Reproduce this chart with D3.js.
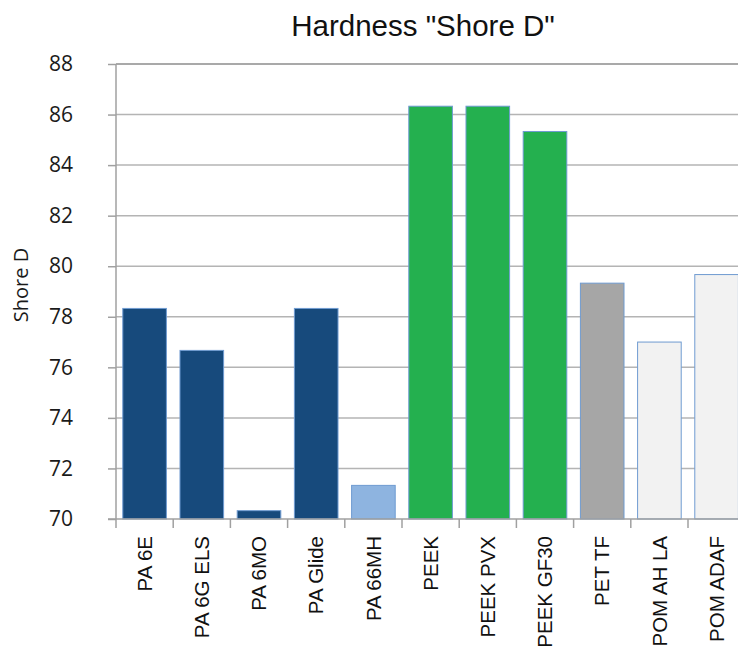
<!DOCTYPE html>
<html>
<head>
<meta charset="utf-8">
<script src="https://cdn.jsdelivr.net/npm/d3@7"></script>
<style>
  html, body { margin: 0; padding: 0; background: #fff; }
  svg { display: block; }
</style>
</head>
<body>
<div id="chart"></div>
<script>
// Shore D hardness per material
const materials = ["PA 6E", "PA 6G ELS", "PA 6MO", "PA Glide", "PA 66MH", "PEEK", "PEEK PVX", "PEEK GF30", "PET TF", "POM AH LA", "POM ADAF"];
const hardness = [78.33, 76.67, 70.33, 78.33, 71.33, 86.33, 86.33, 85.33, 79.33, 77, 79.67];
const fills = ["#174a7c", "#174a7c", "#174a7c", "#174a7c", "#8eb4e0", "#24b04f", "#24b04f", "#24b04f", "#a6a6a6", "#f2f2f2", "#f2f2f2"];
const yTicks = [70, 72, 74, 76, 78, 80, 82, 84, 86, 88];

const W = 738, H = 654;
const plotLeft = 116, plotTop = 64, plotBottom = 519;
const bandW = 57.2;

const svg = d3.select("#chart").append("svg")
  .attr("width", W).attr("height", H);

const x = d3.scaleBand().domain(materials)
  .range([plotLeft, plotLeft + bandW * materials.length])
  .paddingInner(0.22).paddingOuter(0.11);
const y = d3.scaleLinear().domain([70, 88]).range([plotBottom, plotTop]);

// horizontal gridlines
svg.append("g").selectAll("line").data(yTicks.slice(1)).join("line")
  .attr("x1", plotLeft).attr("x2", W)
  .attr("y1", d => y(d)).attr("y2", d => y(d))
  .attr("stroke", d => d === 88 ? "#8c8c8c" : "#b4b4b4")
  .attr("stroke-width", 1.5);

// bars
svg.append("g").selectAll("rect").data(materials).join("rect")
  .attr("x", d => x(d) + 0.5)
  .attr("width", x.bandwidth() - 1)
  .attr("y", (d, i) => y(hardness[i]))
  .attr("height", (d, i) => y(70) - y(hardness[i]))
  .attr("fill", (d, i) => fills[i])
  .attr("stroke", "#6f9bd1")
  .attr("stroke-width", 1);

// y axis
const yAxis = svg.append("g").attr("transform", `translate(${plotLeft},0)`)
  .call(d3.axisLeft(y).tickValues(yTicks).tickSize(8).tickPadding(35).tickFormat(d3.format("d")));
yAxis.select(".domain").attr("stroke", "#a0a0a0").attr("stroke-width", 1.5)
  .attr("d", `M0,${plotTop}V${plotBottom}`);
yAxis.selectAll(".tick line").attr("stroke", "#a0a0a0").attr("stroke-width", 1.5);
yAxis.selectAll(".tick text")
  .attr("font-family", "'Open Sans', 'DejaVu Sans', sans-serif")
  .attr("font-size", 21).attr("fill", "#1a1a1a");

// x axis
const xAxis = svg.append("g").attr("transform", `translate(0,${plotBottom})`)
  .call(d3.axisBottom(x).tickSize(0).tickPadding(0));
xAxis.select(".domain").attr("stroke", "#a0a0a0").attr("stroke-width", 1.5)
  .attr("d", `M${plotLeft - 8},0H${W}`);
xAxis.selectAll(".tick text")
  .attr("font-family", "'Liberation Sans', Arial, sans-serif")
  .attr("font-size", 20.5).attr("fill", "#111")
  .attr("text-anchor", "end")
  .attr("dy", "0.35em")
  .attr("transform", "translate(0,17) rotate(-90)");

// category separators below the axis
svg.append("g").selectAll("line").data(d3.range(materials.length + 1)).join("line")
  .attr("x1", i => plotLeft + i * bandW).attr("x2", i => plotLeft + i * bandW)
  .attr("y1", plotBottom).attr("y2", plotBottom + 9)
  .attr("stroke", "#a0a0a0").attr("stroke-width", 1.5);

// y axis title
svg.append("text")
  .attr("transform", `translate(21,285) rotate(-90)`)
  .attr("text-anchor", "middle")
  .attr("dy", "0.35em")
  .attr("font-family", "'Open Sans', 'DejaVu Sans', sans-serif")
  .attr("font-size", 20).attr("fill", "#1a1a1a")
  .text("Shore D");

// chart title
svg.append("text")
  .attr("x", 423).attr("y", 36)
  .attr("text-anchor", "middle")
  .attr("font-family", "'Liberation Sans', Arial, sans-serif")
  .attr("font-size", 29.5).attr("fill", "#111")
  .text('Hardness "Shore D"');
</script>
</body>
</html>
